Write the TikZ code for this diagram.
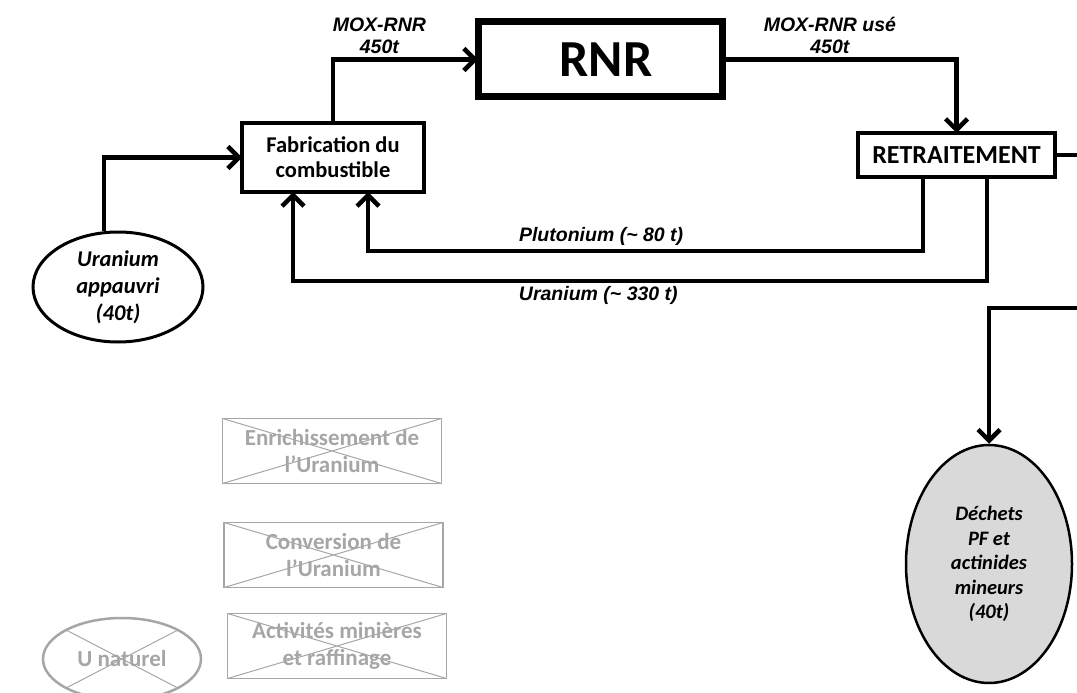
\documentclass[tikz,border=0pt]{standalone}
\usepackage{fontspec}
\setmainfont{Carlito}
\newfontfamily\arial{Liberation Sans}
\usepackage{xcolor}
\usetikzlibrary{arrows, arrows.meta, shapes}
\usetikzlibrary{positioning}

\definecolor{grisbarre}{RGB}{166,166,166}
\definecolor{grisdechet}{RGB}{217,217,217}

\begin{document}
\begin{tikzpicture}[x=1pt,y=-1pt,->,>={Straight Barb[length=11pt,width=22pt]},line width=4.5pt,
	etape/.style={draw,line width=4pt,font=\bfseries\fontsize{22.5}{25}\selectfont,align=center,inner sep=0pt,outer sep=0pt},
	flux/.style={font=\arial\bfseries\itshape\fontsize{19.5}{22}\selectfont,align=center},
	barre/.style={draw=grisbarre,line width=1.5pt,text=grisbarre,font=\bfseries\fontsize{23}{27}\selectfont,align=center,inner sep=0pt,outer sep=0pt,minimum width=219pt,minimum height=65pt,
		path picture={\draw[-,grisbarre,line width=1pt] (path picture bounding box.north west) -- (path picture bounding box.south east) (path picture bounding box.south west) -- (path picture bounding box.north east);}}]
	\useasboundingbox (0,0) rectangle (1077,693);
	
	% Definición de los nodos
	\node[etape,line width=7pt,minimum width=244pt,minimum height=75pt,font=\bfseries\fontsize{52}{60}\selectfont] (rnr) at (600,59.5) {\hspace*{12pt}RNR};
	\node[etape,minimum width=182pt,minimum height=69pt] (fab) at (333,157.5) {Fabrication du\\combustible};
	\node[etape,minimum width=197pt,minimum height=44pt,font=\bfseries\fontsize{26}{28}\selectfont] (retrait) at (956.5,155) {RETRAITEMENT};
	\node[ellipse,draw,line width=3pt,minimum width=170pt,minimum height=110pt,inner sep=0pt,align=center,font=\bfseries\itshape\fontsize{22.5}{27}\selectfont] (uapp) at (118,287) {Uranium\\appauvri\\(40t)};
	\node[ellipse,draw,line width=2.5pt,fill=grisdechet,minimum width=166pt,minimum height=238pt,inner sep=0pt,align=center,font=\bfseries\itshape\fontsize{20.5}{24.5}\selectfont] (dechets) at (989,564) {Déchets\\PF et\\actinides\\mineurs\\(40t)};
	\coordinate (horsbas) at (1120,308);
	
	% Etapes barrées
	\node[barre] (enrich) at (332,451) {Enrichissement de\\l’Uranium};
	\node[barre] (conv) [below=39pt of enrich,xshift=1.5pt] {Conversion de\\l’Uranium};
	\node[barre] (mines) [below=26pt of conv,xshift=3.5pt] {Activités minières\\et raffinage};
	\node[ellipse,draw=grisbarre,line width=2.5pt,text=grisbarre,font=\bfseries\fontsize{23}{27}\selectfont,minimum width=158pt,minimum height=82pt,inner sep=0pt,outer sep=0pt] (unat) at (122,659) {U naturel};
	\draw[-,grisbarre,line width=1pt] (unat.north west) -- (unat.south east) (unat.south west) -- (unat.north east);
	
	% Flujos
	\draw (fab.north) |- (rnr.west) node[flux,above,pos=0.66] {MOX-RNR\\450t};
	\draw (rnr.east) -| (retrait.north) node[flux,above,pos=0.23] {MOX-RNR usé\\450t};
	\draw ([xshift=-14pt]uapp.north) |- (fab.west);
	\draw ([xshift=-33.5pt]retrait.south) -- ++(0,74) -| ([xshift=35pt]fab.south) node[flux,above,pos=0.29] {Plutonium (\textasciitilde{} 80 t)};
	\draw ([xshift=30.5pt]retrait.south) -- ++(0,104) -| ([xshift=-40pt]fab.south) node[flux,below,pos=0.28] {Uranium (\textasciitilde{} 330 t)};
	\draw (retrait.east) -| (horsbas) -| (dechets.north);
\end{tikzpicture}
\end{document}
